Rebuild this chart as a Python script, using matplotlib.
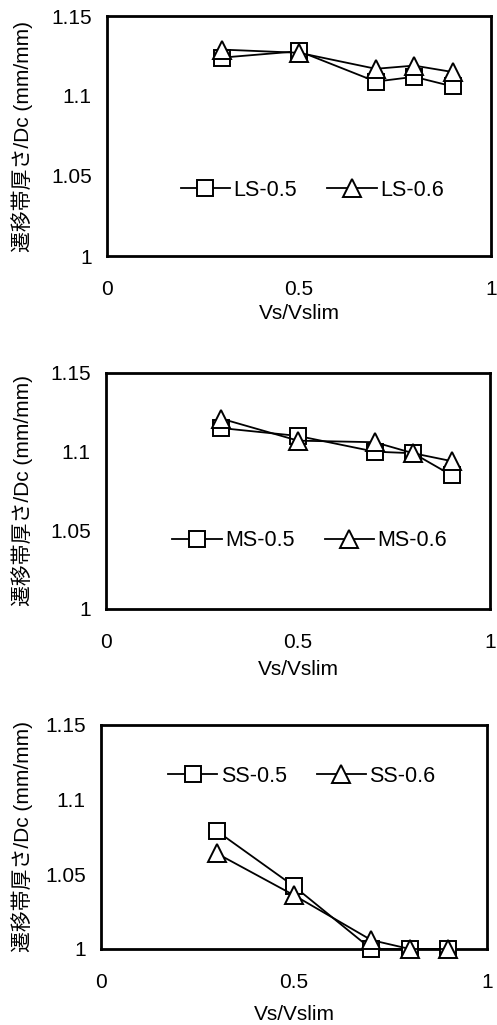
import matplotlib
matplotlib.use("Agg")
import matplotlib.pyplot as plt

plt.rcParams['font.family'] = ['Liberation Sans', 'Noto Sans CJK JP', 'DejaVu Sans']

vs_ratio = [0.3, 0.5, 0.7, 0.8, 0.9]

ls_05 = [1.124, 1.128, 1.109, 1.112, 1.106]
ls_06 = [1.129, 1.127, 1.117, 1.119, 1.115]
ms_05 = [1.115, 1.110, 1.100, 1.099, 1.085]
ms_06 = [1.121, 1.107, 1.106, 1.099, 1.094]
ss_05 = [1.079, 1.042, 1.000, 1.000, 1.000]
ss_06 = [1.064, 1.036, 1.006, 1.000, 1.000]

panels = [
	("LS-0.5", ls_05, "LS-0.6", ls_06),
	("MS-0.5", ms_05, "MS-0.6", ms_06),
	("SS-0.5", ss_05, "SS-0.6", ss_06),
]

y_ticks = [1, 1.05, 1.1, 1.15]
y_tick_labels = ["1", "1.05", "1.1", "1.15"]
x_ticks = [0, 0.5, 1]
x_tick_labels = ["0", "0.5", "1"]

W, H = 497, 1025
# axes boxes in pixels: left, top, right, bottom
boxes = [(107, 16, 491, 256), (106, 373, 490, 609), (101, 725, 487, 949)]
xlabel_gap = [48, 51, 56]
legend_at = [(0.534, 0.275), (0.53, 0.29), (0.52, 0.77)]

fig = plt.figure(figsize=(W / 100, H / 100), dpi=100)

for (name_a, ya, name_b, yb), (l, t, r, b), gap, leg_xy in zip(panels, boxes, xlabel_gap, legend_at):
	ax = fig.add_axes([l / W, 1 - b / H, (r - l) / W, (b - t) / H])
	ax.plot(vs_ratio, ya, color="black", lw=1.3, marker="s", ms=11,
		mfc="white", mec="black", mew=1.4, label=name_a, clip_on=False, zorder=3)
	ax.plot(vs_ratio, yb, color="black", lw=1.3, marker="^", ms=13,
		mfc="white", mec="black", mew=1.4, label=name_b, clip_on=False, zorder=4)
	ax.set_xlim(0, 1)
	ax.set_ylim(1, 1.15)
	ax.set_xticks(x_ticks, x_tick_labels)
	ax.set_yticks(y_ticks, y_tick_labels)
	ax.tick_params(axis="both", length=0, labelsize=15)
	ax.tick_params(axis="x", pad=17)
	ax.tick_params(axis="y", pad=11)
	for sp in ax.spines.values():
		sp.set_linewidth(2)
	ax.set_xlabel("Vs/Vslim", fontsize=15)
	ax.xaxis.set_label_coords(0.5, -gap / (b - t))
	ax.set_ylabel("遷移帯厚さ/Dc (mm/mm)", fontsize=15)
	ax.yaxis.set_label_coords(-(l - 33) / (r - l), 0.5)
	ax.legend(loc="center", bbox_to_anchor=leg_xy, ncol=2, frameon=False,
		fontsize=15.5, handlelength=2.3, columnspacing=1.4, handletextpad=0.15,
		borderaxespad=0)

fig.savefig("out.png", dpi=100)
